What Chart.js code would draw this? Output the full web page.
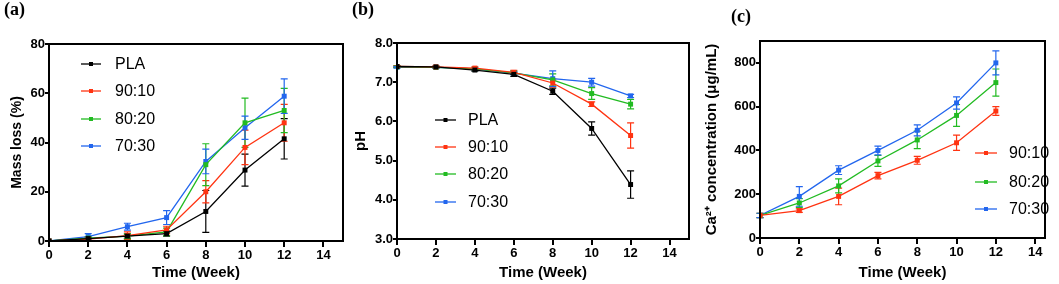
<!DOCTYPE html>
<html lang="en">
<head>
  <meta charset="UTF-8">
  <title>Degradation - Mass loss, pH, Ca2+</title>
  <script src="https://cdn.jsdelivr.net/npm/chart.js"></script>
  <style>
    body {
      margin: 0;
      background: #fff;
    }
    .wrap {
      position: relative;
      width: 1059px;
      height: 284px;
    }
    .wrap canvas {
      position: absolute;
      top: 0;
    }
    .tag {
      position: absolute;
      font-family: "Liberation Serif", "Times New Roman", serif;
      font-weight: bold;
      font-size: 18px;
      line-height: 18px;
      color: #000;
    }
  </style>
</head>
<body>
  <div class="wrap">
    <canvas id="chartA" width="350" height="284" style="left:0"></canvas>
    <canvas id="chartB" width="350" height="284" style="left:350px"></canvas>
    <canvas id="chartC" width="359" height="284" style="left:700px"></canvas>
    <div class="tag" style="left:4px;top:0px">(a)</div>
    <div class="tag" style="left:352px;top:0px">(b)</div>
    <div class="tag" style="left:731px;top:7px">(c)</div>
  </div>

  <script>
    // --- data ---
    const weeks = [0, 2, 4, 6, 8, 10, 12];
    const timeTicks = [0, 2, 4, 6, 8, 10, 12, 14];
    const massTicks = [0, 20, 40, 60, 80];
    const phTicks = [3, 4, 5, 6, 7, 8];
    const caTicks = [0, 200, 400, 600, 800];

    const massPLA  = [0, 1.0, 2.0, 3.0, 12.0, 28.8, 41.5];
    const massPLAErr  = [0, 0.5, 0.8, 1.0, 8.5, 6.5, 8.2];
    const mass9010 = [0, 0.8, 2.2, 4.5, 20.0, 38.0, 48.0];
    const mass9010Err = [0, 0.5, 1.5, 1.5, 4.5, 7.0, 7.5];
    const mass8020 = [0, 1.2, 2.0, 3.7, 31.0, 48.0, 53.0];
    const mass8020Err = [0, 0.6, 1.0, 1.5, 8.5, 10.0, 9.0];
    const mass7030 = [0, 1.8, 5.8, 9.5, 32.3, 46.0, 58.8];
    const mass7030Err = [0, 1.2, 1.4, 2.8, 5.0, 4.7, 7.0];

    const phPLA  = [7.40, 7.39, 7.31, 7.20, 6.77, 5.82, 4.39];
    const phPLAErr  = [0.02, 0.02, 0.03, 0.05, 0.08, 0.17, 0.35];
    const ph9010 = [7.40, 7.39, 7.36, 7.25, 6.98, 6.44, 5.64];
    const ph9010Err = [0.02, 0.02, 0.03, 0.05, 0.10, 0.06, 0.32];
    const ph8020 = [7.39, 7.38, 7.34, 7.24, 7.06, 6.71, 6.44];
    const ph8020Err = [0.02, 0.02, 0.02, 0.04, 0.15, 0.15, 0.12];
    const ph7030 = [7.38, 7.38, 7.34, 7.23, 7.09, 7.00, 6.65];
    const ph7030Err = [0.02, 0.02, 0.02, 0.04, 0.20, 0.10, 0.04];

    const ca9010 = [103, 125, 190, 285, 355, 435, 580];
    const ca9010Err = [10, 8, 38, 15, 18, 35, 20];
    const ca8020 = [103, 160, 238, 352, 448, 560, 710];
    const ca8020Err = [10, 20, 32, 25, 40, 50, 62];
    const ca7030 = [103, 190, 310, 400, 492, 617, 800];
    const ca7030Err = [10, 45, 20, 20, 25, 28, 55];

    const colors = {
      'PLA': '#000000',
      '90:10': '#ff3311',
      '80:20': '#22bb22',
      '70:30': '#2266ee'
    };

    Chart.defaults.font.family = 'Arial, "Liberation Sans", sans-serif';
    Chart.defaults.color = '#000';

    function series(label, values, errors) {
      return {
        label: label,
        data: weeks.map((w, i) => ({ x: w, y: values[i] })),
        errors: errors,
        borderColor: colors[label],
        backgroundColor: colors[label],
        borderWidth: 1.3,
        pointStyle: 'rect',
        pointRadius: 3.5,
        pointBorderWidth: 0,
        tension: 0
      };
    }

    // error bars drawn under the markers
    const errorBars = {
      id: 'errorBars',
      beforeDatasetsDraw(chart) {
        const ctx = chart.ctx;
        const xs = chart.scales.x, ys = chart.scales.y;
        ctx.save();
        ctx.lineWidth = 1.2;
        chart.data.datasets.forEach(ds => {
          ctx.strokeStyle = ds.borderColor;
          ds.data.forEach((p, i) => {
            const e = ds.errors[i];
            if (!e) return;
            const px = xs.getPixelForValue(p.x);
            const y1 = ys.getPixelForValue(p.y - e);
            const y2 = ys.getPixelForValue(p.y + e);
            ctx.beginPath();
            ctx.moveTo(px, y1); ctx.lineTo(px, y2);
            ctx.moveTo(px - 3.5, y1); ctx.lineTo(px + 3.5, y1);
            ctx.moveTo(px - 3.5, y2); ctx.lineTo(px + 3.5, y2);
            ctx.stroke();
          });
        });
        ctx.restore();
      }
    };

    // full black frame around the plot area
    const frame = {
      id: 'frame',
      afterDraw(chart) {
        const { left, top, width, height } = chart.chartArea;
        const ctx = chart.ctx;
        ctx.save();
        ctx.strokeStyle = '#000';
        ctx.lineWidth = 2;
        ctx.strokeRect(left, top, width, height);
        ctx.restore();
      }
    };

    // legend drawn at fixed spots inside the plot
    const boxLegend = {
      id: 'boxLegend',
      afterDraw(chart, args, opts) {
        const ctx = chart.ctx;
        ctx.save();
        ctx.font = '16px Arial, "Liberation Sans", sans-serif';
        ctx.textBaseline = 'middle';
        chart.data.datasets.forEach((ds, i) => {
          const y = opts.rows[i];
          ctx.strokeStyle = ds.borderColor;
          ctx.fillStyle = ds.borderColor;
          ctx.lineWidth = 1.3;
          ctx.beginPath();
          ctx.moveTo(opts.x1, y); ctx.lineTo(opts.x2, y);
          ctx.stroke();
          const mx = (opts.x1 + opts.x2) / 2;
          ctx.fillRect(mx - 2, y - 2, 4, 4);
          ctx.fillStyle = '#000';
          ctx.fillText(ds.label, opts.textX, y + 1);
        });
        ctx.restore();
      }
    };

    function makePanel(id, datasets, p) {
      return new Chart(document.getElementById(id), {
        type: 'line',
        data: { datasets: datasets },
        plugins: [errorBars, frame, boxLegend],
        options: {
          responsive: false,
          animation: false,
          layout: { padding: { top: p.top, right: p.right, bottom: 0, left: 0 } },
          plugins: {
            legend: { display: false },
            tooltip: { enabled: false },
            boxLegend: p.legend
          },
          scales: {
            x: {
              type: 'linear',
              min: 0,
              max: p.xMax,
              afterBuildTicks: s => { s.ticks = timeTicks.map(v => ({ value: v })); },
              afterFit: s => { s.height = p.xHeight; s.paddingLeft = 0; s.paddingRight = 0; },
              grid: { drawOnChartArea: false, color: '#000', lineWidth: 2, tickLength: 6 },
              border: { display: false },
              ticks: { color: '#000', font: { size: 13, weight: 'bold' }, padding: 1, maxRotation: 0, autoSkip: false },
              title: { display: true, text: 'Time (Week)', color: '#000', font: { size: 15, weight: 'bold' }, padding: { top: 0, bottom: 2 } }
            },
            y: {
              min: p.yMin,
              max: p.yMax,
              afterBuildTicks: s => { s.ticks = p.yTicks.map(v => ({ value: v })); },
              afterFit: s => { s.width = p.yWidth; s.paddingTop = 0; s.paddingBottom = 0; },
              grid: { drawOnChartArea: false, color: '#000', lineWidth: 2, tickLength: 4 },
              border: { display: false },
              ticks: { color: '#000', font: { size: 13, weight: 'bold' }, padding: 0, callback: p.yFmt },
              title: { display: true, text: p.yTitle, color: '#000', font: { size: p.yTitleSize, weight: 'bold' }, padding: { top: p.yTitlePad, bottom: 0 } }
            }
          }
        }
      });
    }

    makePanel('chartA', [
      series('PLA', massPLA, massPLAErr),
      series('90:10', mass9010, mass9010Err),
      series('80:20', mass8020, mass8020Err),
      series('70:30', mass7030, mass7030Err)
    ], {
      top: 44, right: 7, xHeight: 43, yWidth: 49, xMax: 15,
      yMin: 0, yMax: 80, yTicks: massTicks, yFmt: v => v,
      yTitle: 'Mass loss (%)', yTitleSize: 14, yTitlePad: 9,
      legend: { x1: 81, x2: 101, textX: 115, rows: [64, 91, 119, 146] }
    });

    makePanel('chartB', [
      series('PLA', phPLA, phPLAErr),
      series('90:10', ph9010, ph9010Err),
      series('80:20', ph8020, ph8020Err),
      series('70:30', ph7030, ph7030Err)
    ], {
      top: 43, right: 11, xHeight: 45, yWidth: 47, xMax: 15,
      yMin: 3, yMax: 8, yTicks: phTicks, yFmt: v => v.toFixed(1),
      yTitle: 'pH', yTitleSize: 15, yTitlePad: 2,
      legend: { x1: 85, x2: 106, textX: 118, rows: [120, 147, 174, 202] }
    });

    makePanel('chartC', [
      series('90:10', ca9010, ca9010Err),
      series('80:20', ca8020, ca8020Err),
      series('70:30', ca7030, ca7030Err)
    ], {
      top: 41, right: 14, xHeight: 46, yWidth: 60, xMax: 14.5,
      yMin: 0, yMax: 900, yTicks: caTicks, yFmt: v => v,
      yTitle: 'Ca²⁺ concentration (μg/mL)', yTitleSize: 15, yTitlePad: 3,
      legend: { x1: 275, x2: 297, textX: 309, rows: [153, 182, 209] }
    });
  </script>
</body>
</html>
